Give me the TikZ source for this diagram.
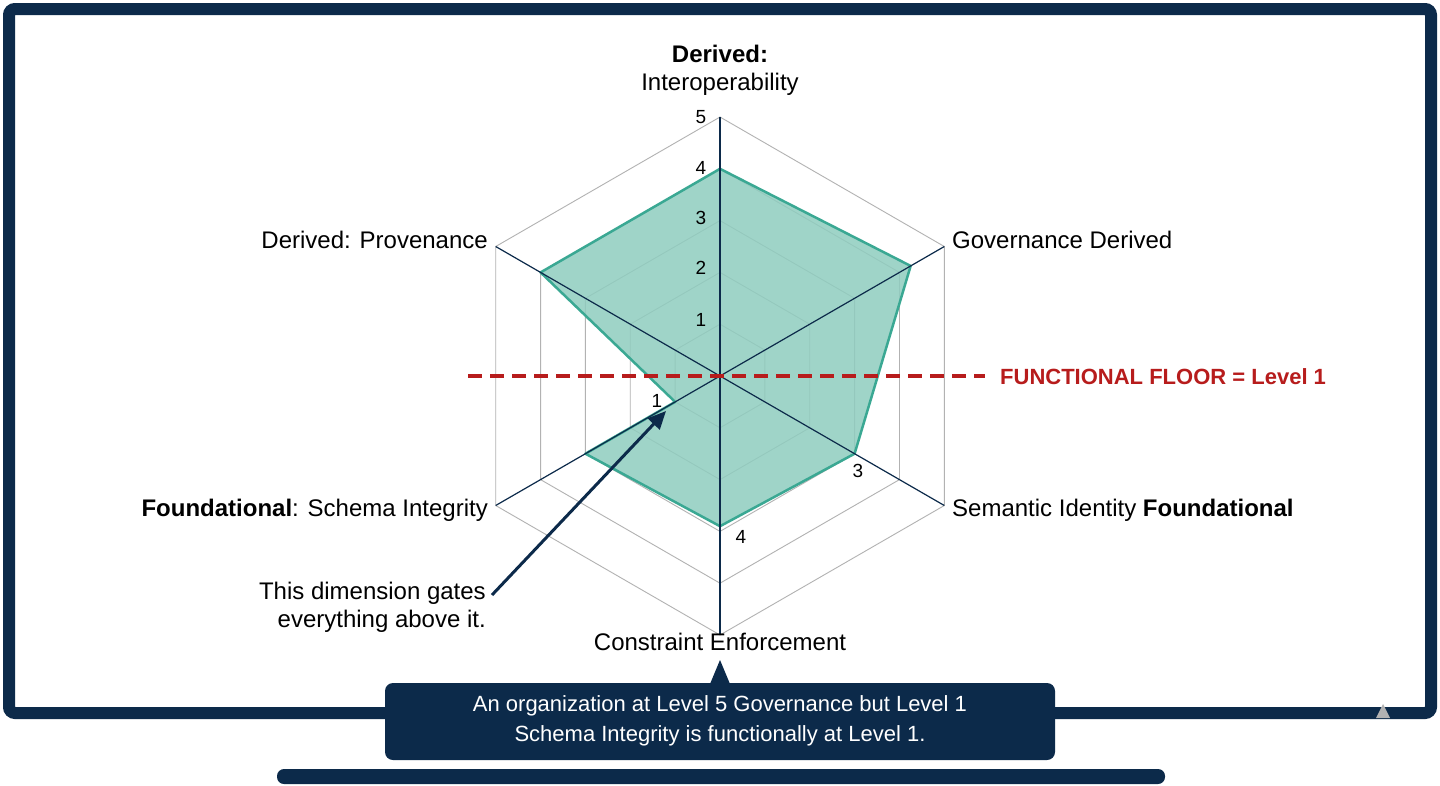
\documentclass[tikz,border=0pt]{standalone}
\usepackage{fontspec}
\setmainfont{Liberation Sans}
\usetikzlibrary{arrows.meta,calc}
\definecolor{navy}{HTML}{0C2A4A}
\definecolor{teal}{HTML}{3AA893}
\definecolor{fl}{HTML}{8FCDBF}
\definecolor{red}{HTML}{B71C1C}
\begin{document}
\begin{tikzpicture}[x=1pt,y=-1pt,
 lbl/.style={font=\fontsize{24}{28}\selectfont,text=black,inner sep=0},
 num/.style={font=\fontsize{19}{22}\selectfont,inner sep=0},
 grid/.style={gray!60,line width=0.9pt}]
\useasboundingbox (0,0) rectangle (1440,785);
\fill[white] (0,0) rectangle (1440,785);
% frame
\draw[navy,line width=12pt,rounded corners=6pt] (9,9) rectangle (1431,713);
\fill[navy,rounded corners=7pt] (277,769) rectangle (1165,784);
\fill[gray!60] (1376,718) -- (1383,704) -- (1390,718) -- cycle;
\coordinate (O) at (720,376);
\def\R{51.8}
% grid hexagons
\foreach \k in {1,...,5}{
 \draw[grid] ($(O)+(90:\k*\R)$) \foreach \a in {30,-30,-90,-150,150}{ -- ($(O)+(\a:\k*\R)$)} -- cycle;}
% data polygon
\coordinate (pT) at ($(O)+(0,-4*\R)$);
\coordinate (pUR) at ($(O)+(0.866*4.25*\R,-0.5*4.25*\R)$);
\coordinate (pLR) at ($(O)+(0.866*3*\R,0.5*3*\R)$);
\coordinate (pB) at ($(O)+(0,2.9*\R)$);
\coordinate (pLL) at ($(O)+(-0.866*3*\R,0.5*3*\R)$);
\coordinate (pLL1) at ($(O)+(-0.866*1*\R,0.5*1*\R)$);
\coordinate (pUL) at ($(O)+(-0.866*4*\R,-0.5*4*\R)$);
\filldraw[fill=fl,fill opacity=0.85,draw=teal,line width=2.5pt,line join=round] (pT)--(pUR)--(pLR)--(pB)--(pLL)--(pLL1)--(pUL)--cycle;
% axes
\foreach \a in {90,30,-30,-90,-150,150}{
 \draw[navy,line width=1.2pt] (O) -- ($(O)+(\a:5*\R)$);}
% floor
\draw[red,line width=3.5pt,dash pattern=on 14pt off 8pt] (468,376) -- (985,376);
\node[anchor=west,text=red,font=\fontsize{22}{26}\selectfont\bfseries,inner sep=0] (fl) at (1000,377) {FUNCTIONAL FLOOR = Level 1};
% numbers
\foreach \v/\y in {5/117,4/168,3/218,2/268,1/320}{\node[num] at (701,\y) {\v};}
\node[num] at (657,401) {1};
\node[num] at (858,471) {3};
\node[num] at (741,537) {4};
% labels
\node[lbl,align=center] (top) at (720,70) {\textbf{Derived:}\\Interoperability};
\node[lbl,anchor=east] (ul) at (488,240) {Derived: Provenance};
\node[lbl,anchor=west] (ur) at (952,240) {Governance Derived};
\node[lbl,anchor=east] (ll) at (488,510) {\textbf{Foundational}: Schema Integrity};
\node[lbl,anchor=west] (lr) at (952,510) {Semantic Identity \textbf{Foundational}};
\node[lbl] (bt) at (720,642) {Constraint Enforcement};
\node[lbl,align=right,anchor=east] (note) at (486,607) {This dimension gates\\everything above it.};
\coordinate (tip) at (666,411);
\draw[navy,line width=3pt,-{Triangle[length=18pt,width=16pt]}] ($(note.east)+(6,-12)$) -- (tip);
% callout
\fill[navy,rounded corners=8pt] (385,683) rectangle (1055,760);
\fill[navy] (710,684) -- (720,660) -- (730,684) -- cycle;
\node[text=white,align=center,font=\fontsize{22}{30}\selectfont,inner sep=0] (c) at (720,721) {An organization at Level 5 Governance but Level 1\\Schema Integrity is functionally at Level 1.};
\end{tikzpicture}
\end{document}
